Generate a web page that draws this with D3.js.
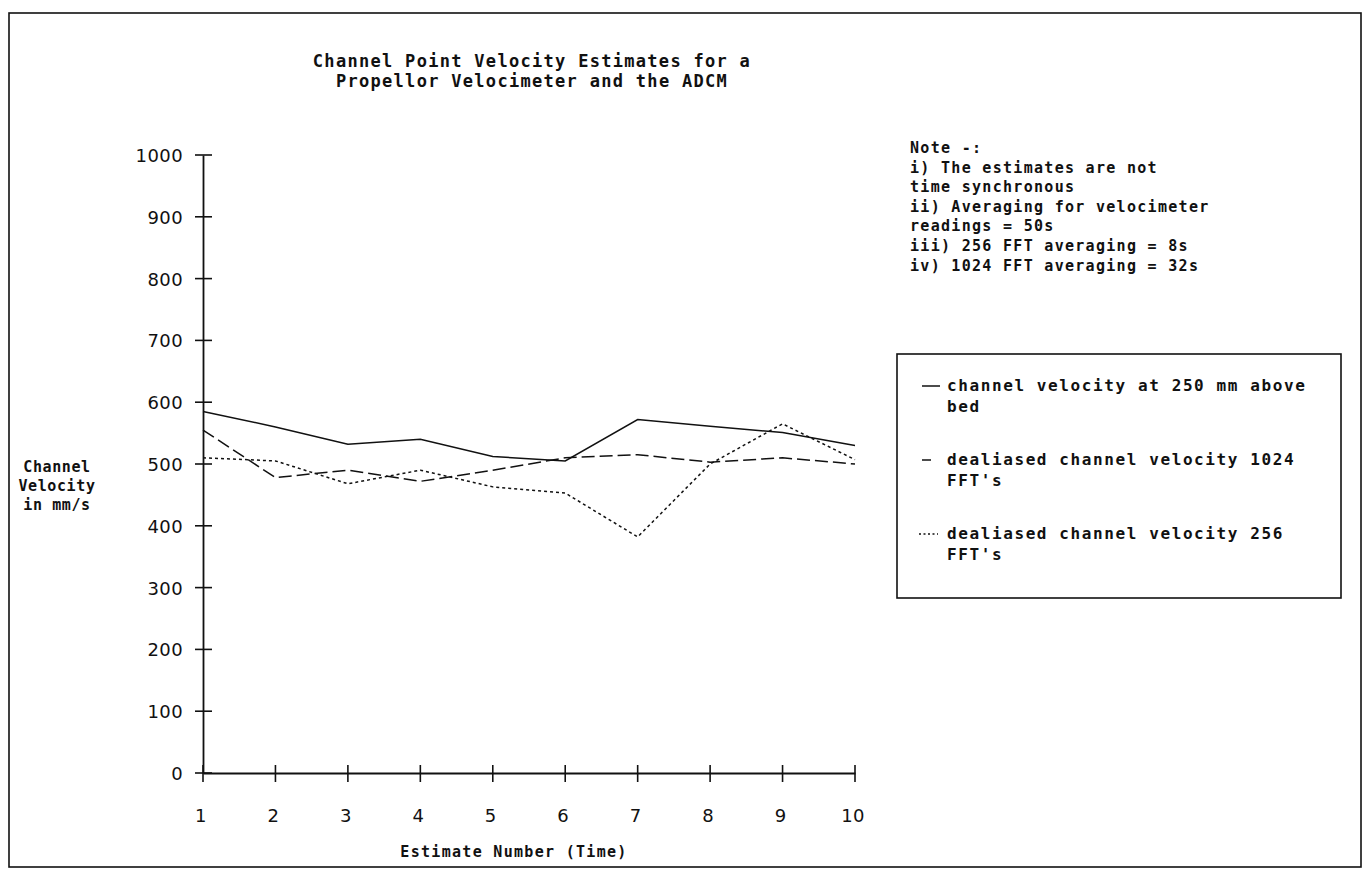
<!DOCTYPE html>
<html>
<head>
<meta charset="utf-8">
<script src="https://cdn.jsdelivr.net/npm/d3@7"></script>
<style>
  html, body { margin: 0; padding: 0; background: #fff; }
  svg text { font-family: "DejaVu Sans Mono", monospace; fill: #111; }
</style>
</head>
<body>
<svg id="chart" width="1366" height="876"></svg>
<script>
// ----------- Data ---------------------------------
const estimates = [1, 2, 3, 4, 5, 6, 7, 8, 9, 10];
const velocity250 = [585, 560, 532, 540, 512, 505, 572, 561, 551, 530];
const dealiased1024 = [555, 478, 490, 472, 490, 510, 515, 503, 510, 500];
const dealiased256 = [510, 505, 468, 490, 463, 453, 382, 500, 565, 507];
const yTicks = [0, 100, 200, 300, 400, 500, 600, 700, 800, 900, 1000];

const titleLines = ["Channel Point Velocity Estimates for a", "Propellor Velocimeter and the ADCM"];
const noteLines = [
  "Note -:",
  "i) The estimates are not",
  "time synchronous",
  "ii) Averaging for velocimeter",
  "readings = 50s",
  "iii) 256 FFT averaging = 8s",
  "iv) 1024 FFT averaging = 32s"
];
const legendItems = [
  { lines: ["channel velocity at 250 mm above", "bed"], dash: null, values: velocity250 },
  { lines: ["dealiased channel velocity 1024", "FFT's"], dash: "13,5", values: dealiased1024 },
  { lines: ["dealiased channel velocity 256", "FFT's"], dash: "3,3", values: dealiased256 }
];

// ----------- Setup ------------
const svg = d3.select("#chart");

// outer frame
svg.append("rect")
  .attr("x", 9).attr("y", 13).attr("width", 1352).attr("height", 854)
  .attr("fill", "none").attr("stroke", "#111").attr("stroke-width", 1.6);

const x = d3.scaleLinear().domain([1, 10]).range([203, 855]);
const y = d3.scaleLinear().domain([0, 1000]).range([773, 155]);

// ----------- Title ------------
svg.append("g").selectAll("text")
  .data(titleLines)
  .enter().append("text")
  .attr("x", 532)
  .attr("y", (d, i) => 67 + i * 20)
  .attr("text-anchor", "middle")
  .style("font-size", "17px")
  .style("font-weight", "bold")
  .style("letter-spacing", "1.3px")
  .text(d => d);

// ----------- Axes ------------
const yAxis = d3.axisLeft(y).tickValues(yTicks).tickSize(0).tickPadding(0).tickFormat("");
const gy = svg.append("g").attr("transform", `translate(${x(1)},0)`).call(yAxis);
gy.select(".domain").attr("stroke", "#111").attr("stroke-width", 1.8);

// cross ticks on y
svg.append("g").selectAll("line")
  .data(yTicks)
  .enter().append("line")
  .attr("x1", x(1) - 8).attr("x2", x(1) + 9)
  .attr("y1", d => y(d)).attr("y2", d => y(d))
  .attr("stroke", "#111").attr("stroke-width", 1.6);

svg.append("g").selectAll("text")
  .data(yTicks)
  .enter().append("text")
  .attr("x", 183)
  .attr("y", d => y(d) + 7)
  .attr("text-anchor", "end")
  .style("font-family", "'DejaVu Sans', sans-serif")
  .style("font-size", "18px")
  .style("letter-spacing", "0.4px")
  .text(d => d);

// x axis
const xAxis = d3.axisBottom(x).tickValues(estimates).tickSize(0).tickFormat("");
const gx = svg.append("g").attr("transform", `translate(0,${y(0)})`).call(xAxis);
gx.select(".domain").attr("stroke", "#111").attr("stroke-width", 1.8);

svg.append("g").selectAll("line")
  .data(estimates)
  .enter().append("line")
  .attr("x1", d => x(d)).attr("x2", d => x(d))
  .attr("y1", y(0) - 8).attr("y2", y(0) + 9)
  .attr("stroke", "#111").attr("stroke-width", 1.6);

svg.append("g").selectAll("text")
  .data(estimates)
  .enter().append("text")
  .attr("x", d => x(d) - 2)
  .attr("y", 822)
  .attr("text-anchor", "middle")
  .style("font-family", "'DejaVu Sans', sans-serif")
  .style("font-size", "18px")
  .style("letter-spacing", "0.4px")
  .text(d => d);

svg.append("text")
  .attr("x", 514).attr("y", 857)
  .attr("text-anchor", "middle")
  .style("font-size", "15px")
  .style("font-weight", "bold")
  .style("letter-spacing", "1.3px")
  .text("Estimate Number (Time)");

// y axis title
svg.append("g").selectAll("text")
  .data(["Channel", "Velocity", "in mm/s"])
  .enter().append("text")
  .attr("x", 57)
  .attr("y", (d, i) => 472 + i * 19)
  .attr("text-anchor", "middle")
  .style("font-size", "15px")
  .style("font-weight", "bold")
  .style("letter-spacing", "0.6px")
  .text(d => d);

// ----------- Series lines ------------
const line = d3.line()
  .x((d, i) => x(estimates[i]))
  .y(d => y(d));

svg.append("g").selectAll("path")
  .data(legendItems)
  .enter().append("path")
  .attr("d", d => line(d.values))
  .attr("fill", "none")
  .attr("stroke", "#111")
  .attr("stroke-width", 1.5)
  .attr("stroke-dasharray", d => d.dash);

// ----------- Notes ------------
svg.append("g").selectAll("text")
  .data(noteLines)
  .enter().append("text")
  .attr("x", 910)
  .attr("y", (d, i) => 153 + i * 19.6)
  .style("font-size", "15px")
  .style("font-weight", "bold")
  .style("letter-spacing", "1.3px")
  .text(d => d);

// ----------- Legend box ------------
svg.append("rect")
  .attr("x", 897).attr("y", 354).attr("width", 444).attr("height", 244)
  .attr("fill", "none").attr("stroke", "#111").attr("stroke-width", 1.6);

const leg = svg.append("g").selectAll("g")
  .data(legendItems)
  .enter().append("g")
  .attr("transform", (d, i) => `translate(0,${391 + i * 74})`);

leg.append("line")
  .attr("x1", d => d.dash === "3,3" ? 919 : 922)
  .attr("x2", d => d.dash === null ? 940 : (d.dash === "3,3" ? 938 : 931))
  .attr("y1", -5).attr("y2", -5)
  .attr("stroke", "#111")
  .attr("stroke-width", 1.5)
  .attr("stroke-dasharray", d => d.dash === "3,3" ? "2,2.5" : null);

leg.selectAll("text")
  .data(d => d.lines)
  .enter().append("text")
  .attr("x", 947)
  .attr("y", (d, i) => i * 21)
  .style("font-size", "16px")
  .style("font-weight", "bold")
  .style("letter-spacing", "1.6px")
  .text(d => d);
</script>
</body>
</html>
